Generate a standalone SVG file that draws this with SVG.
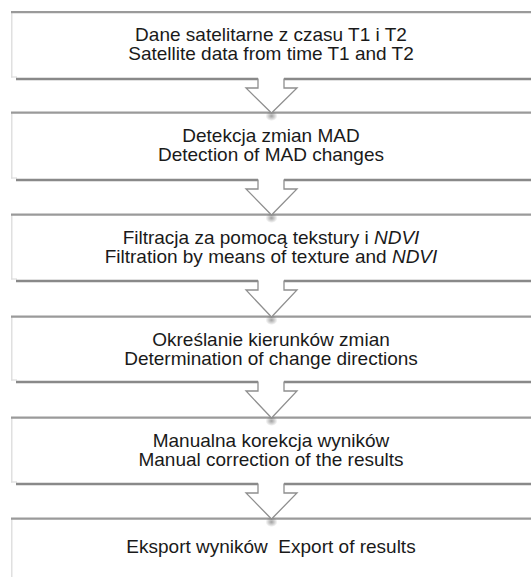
<svg xmlns="http://www.w3.org/2000/svg" width="531" height="577" viewBox="0 0 531 577">
<defs>
<style>
.box{fill:#ffffff;stroke:none}
.bl{stroke:#e0e0e0;stroke-width:1.5;fill:none}
.top{stroke:#9a9a9a;stroke-width:2.2;fill:none}
.bot{stroke:#898989;stroke-width:2.6;fill:none}
.botl{stroke:#dcdcdc;stroke-width:1.2;fill:none}
text{font-family:"Liberation Sans",Arial,sans-serif;font-size:19px;fill:#1a1a1a;text-anchor:middle;white-space:pre}
.arr{fill:#ffffff;stroke:none}
.arrs{fill:none;stroke:#8f8f8f;stroke-width:1.3;stroke-linejoin:miter}
</style>
<radialGradient id="sh" cx="0.5" cy="0.5" r="0.5">
<stop offset="0" stop-color="#555" stop-opacity="0.55"/>
<stop offset="1" stop-color="#555" stop-opacity="0"/>
</radialGradient>
</defs>
<g id="n1">
<rect class="box" x="11" y="11.5" width="530" height="67.5"/>
<line class="bl" x1="11.75" y1="12.5" x2="11.75" y2="77.5"/>
<line class="botl" x1="11" y1="77" x2="17" y2="77"/>
<line class="top" x1="11" y1="12.1" x2="531" y2="12.1"/>
<line class="bot" x1="16" y1="79" x2="531" y2="79"/>
<text x="271" y="41">Dane satelitarne z czasu T1 i T2</text>
<text x="271" y="60">Satellite data from time T1 and T2</text>
</g>
<g id="n2">
<rect class="box" x="11" y="112" width="530" height="68"/>
<line class="bl" x1="11.75" y1="113" x2="11.75" y2="178.5"/>
<line class="botl" x1="11" y1="178" x2="17" y2="178"/>
<line class="top" x1="11" y1="112.6" x2="531" y2="112.6"/>
<line class="bot" x1="16" y1="180" x2="531" y2="180"/>
<text x="271" y="141.5">Detekcja zmian MAD</text>
<text x="271" y="160.5">Detection of MAD changes</text>
</g>
<g id="n3">
<rect class="box" x="11" y="214" width="530" height="67"/>
<line class="bl" x1="11.75" y1="215" x2="11.75" y2="279.5"/>
<line class="botl" x1="11" y1="279" x2="17" y2="279"/>
<line class="top" x1="11" y1="214.6" x2="531" y2="214.6"/>
<line class="bot" x1="16" y1="281" x2="531" y2="281"/>
<text x="271" y="243.5">Filtracja za pomocą tekstury i <tspan font-style="italic">NDVI</tspan></text>
<text x="271" y="262.5">Filtration by means of texture and <tspan font-style="italic">NDVI</tspan></text>
</g>
<g id="n4">
<rect class="box" x="11" y="316" width="530" height="66"/>
<line class="bl" x1="11.75" y1="317" x2="11.75" y2="380.5"/>
<line class="botl" x1="11" y1="380" x2="17" y2="380"/>
<line class="top" x1="11" y1="316.6" x2="531" y2="316.6"/>
<line class="bot" x1="16" y1="382" x2="531" y2="382"/>
<text x="271" y="345.5">Określanie kierunków zmian</text>
<text x="271" y="364.5">Determination of change directions</text>
</g>
<g id="n5">
<rect class="box" x="11" y="417" width="530" height="67"/>
<line class="bl" x1="11.75" y1="418" x2="11.75" y2="482.5"/>
<line class="botl" x1="11" y1="482" x2="17" y2="482"/>
<line class="top" x1="11" y1="417.6" x2="531" y2="417.6"/>
<line class="bot" x1="16" y1="484" x2="531" y2="484"/>
<text x="271" y="446.5">Manualna korekcja wyników</text>
<text x="271" y="465.5">Manual correction of the results</text>
</g>
<g id="n6">
<rect class="box" x="11" y="518" width="530" height="70"/>
<line class="bl" x1="11.75" y1="519" x2="11.75" y2="577"/>
<line class="top" x1="11" y1="518.6" x2="531" y2="518.6"/>
<text x="271" y="553" xml:space="preserve">Eksport wyników  Export of results</text>
</g>
<g id="connectors">
<g>
<ellipse cx="271.5" cy="116" rx="6" ry="5" fill="url(#sh)"/>
<polygon class="arr" points="258,77 284,77 284,88 297,88 271.5,113 246,88 258,88"/>
<polyline class="arrs" points="258,78.5 258,88 246,88 271.5,113 297,88 284,88 284,78.5"/>
</g>
<g>
<ellipse cx="271.5" cy="218" rx="6" ry="5" fill="url(#sh)"/>
<polygon class="arr" points="258,178 284,178 284,189 297,189 271.5,215 246,189 258,189"/>
<polyline class="arrs" points="258,179.5 258,189 246,189 271.5,215 297,189 284,189 284,179.5"/>
</g>
<g>
<ellipse cx="271.5" cy="320" rx="6" ry="5" fill="url(#sh)"/>
<polygon class="arr" points="258,279 284,279 284,290 297,290 271.5,317 246,290 258,290"/>
<polyline class="arrs" points="258,280.5 258,290 246,290 271.5,317 297,290 284,290 284,280.5"/>
</g>
<g>
<ellipse cx="271.5" cy="421" rx="6" ry="5" fill="url(#sh)"/>
<polygon class="arr" points="258,380 284,380 284,391 297,391 271.5,418 246,391 258,391"/>
<polyline class="arrs" points="258,381.5 258,391 246,391 271.5,418 297,391 284,391 284,381.5"/>
</g>
<g>
<ellipse cx="271.5" cy="522" rx="6" ry="5" fill="url(#sh)"/>
<polygon class="arr" points="258,482 284,482 284,493 297,493 271.5,519 246,493 258,493"/>
<polyline class="arrs" points="258,483.5 258,493 246,493 271.5,519 297,493 284,493 284,483.5"/>
</g>
</g>
</svg>
